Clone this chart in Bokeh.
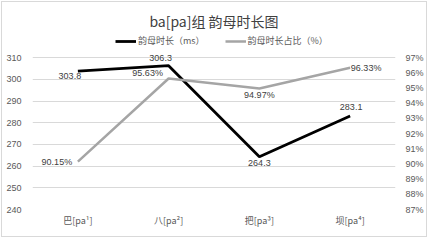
from bokeh.plotting import figure
from bokeh.models import (FactorRange, Range1d, LinearAxis, FixedTicker,
                          PrintfTickFormatter, Legend, LegendItem, ColumnDataSource)
from bokeh.core.properties import value
from bokeh.embed import file_html
from bokeh.resources import INLINE

categories = ["巴[pa¹]", "八[pa²]", "把[pa³]", "坝[pa⁴]"]
duration_ms = [303.8, 306.3, 264.3, 283.1]
ratio_pct = [90.15, 95.63, 94.97, 96.33]
duration_labels = ["303.8", "306.3", "264.3", "283.1"]
ratio_labels = ["90.15%", "95.63%", "94.97%", "96.33%"]
series_names = ["韵母时长（ms）", "韵母时长占比（%）"]
title_text = "ba[pa]组 韵母时长图"
left_ticks = [240, 250, 260, 270, 280, 290, 300, 310]
right_ticks = [87, 88, 89, 90, 91, 92, 93, 94, 95, 96, 97]

# label placement (pixels)
dur_dx = [-8, -8, 0, 1]
dur_dy = [5, -8, 6, -9]
rat_dx = [-21, -21, 0, 16]
rat_dy = [0, -5, 7, 0]

NUM_FONT = "Liberation Sans"
CJK_FONT = "Noto Sans CJK SC"
TXT = "#404040"
AX = "#595959"

# frame: grid area 151px tall plus headroom for the legend
GRID_H = 151.0
HEAD = 27.0
frac = HEAD / GRID_H
l_lo, l_hi = left_ticks[0], left_ticks[-1]
r_lo, r_hi = right_ticks[0], right_ticks[-1]

p = figure(width=426, height=236, x_range=FactorRange(factors=categories, range_padding=0),
           y_range=Range1d(l_lo, l_hi + (l_hi - l_lo) * frac), output_backend="svg",
           toolbar_location=None,
           min_border_left=30, min_border_right=33, min_border_top=28, min_border_bottom=29)
p.extra_y_ranges = {"pct": Range1d(r_lo, r_hi + (r_hi - r_lo) * frac)}
p.outline_line_color = None
p.background_fill_color = "white"
p.border_fill_color = "white"
p.styles = {"border": "1px solid #d9d9d9", "margin": "1px"}

ra = LinearAxis(y_range_name="pct", ticker=FixedTicker(ticks=right_ticks),
                formatter=PrintfTickFormatter(format="%d%%"))
p.add_layout(ra, "right")
p.yaxis[0].ticker = FixedTicker(ticks=left_ticks)

for ax in [p.yaxis[0], ra, p.xaxis[0]]:
    ax.axis_line_color = None
    ax.major_tick_line_color = None
    ax.minor_tick_line_color = None
    ax.major_tick_out = 0
    ax.major_tick_in = 0
    ax.minor_tick_out = 0
    ax.minor_tick_in = 0
    ax.major_label_text_font_size = "9px"
    ax.major_label_text_color = AX

p.yaxis[0].major_label_text_font = NUM_FONT
p.yaxis[0].major_label_standoff = 11
ra.major_label_text_font = NUM_FONT
ra.major_label_standoff = 10
p.xaxis.major_label_text_font = CJK_FONT
p.xaxis.major_label_standoff = 4

p.xgrid.grid_line_color = None
p.ygrid.grid_line_color = "#d9d9d9"
p.ygrid.grid_line_width = 1

src = ColumnDataSource(dict(x=categories, d=duration_ms, r=ratio_pct,
                            dl=duration_labels, rl=ratio_labels,
                            ddx=dur_dx, ddy=dur_dy, rdx=rat_dx, rdy=rat_dy))

l1 = p.line("x", "d", source=src, line_color="black", line_width=2.8)
l2 = p.line("x", "r", source=src, line_color="#a5a5a5", line_width=2.5, y_range_name="pct")

p.text("x", "d", text="dl", source=src, x_offset="ddx", y_offset="ddy",
       text_font=value(NUM_FONT), text_font_size="9px", text_color=TXT,
       text_align="center", text_baseline="middle")
p.text("x", "r", text="rl", source=src, x_offset="rdx", y_offset="rdy",
       y_range_name="pct",
       text_font=value(NUM_FONT), text_font_size="9px", text_color=TXT,
       text_align="center", text_baseline="middle")

legend = Legend(items=[LegendItem(label=series_names[0], renderers=[l1]),
                       LegendItem(label=series_names[1], renderers=[l2])],
                orientation="horizontal", border_line_color=None,
                background_fill_alpha=0, label_text_font=CJK_FONT,
                label_text_font_size="9px", label_text_color=AX,
                glyph_width=21, glyph_height=10, spacing=20, padding=0,
                margin=0, label_standoff=2, location=(83, 162),
                label_height=10)
p.add_layout(legend, "center")

p.title.text = title_text
p.title.text_font = CJK_FONT
p.title.text_font_size = "14px"
p.title.text_font_style = "normal"
p.title.text_color = TXT
p.title.align = "center"
p.title.offset = 0
p.title.standoff = 0

open("out.html", "w").write(file_html(p, INLINE))
